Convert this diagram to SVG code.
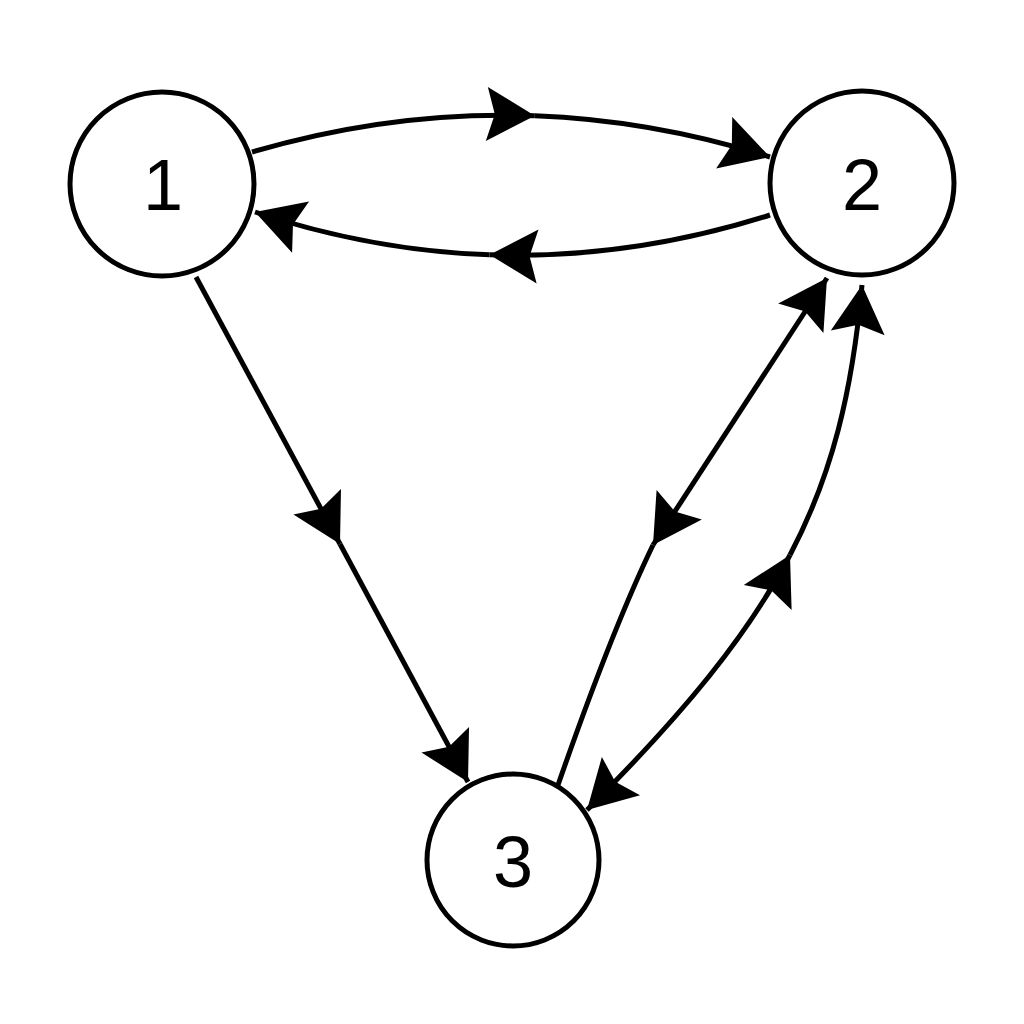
<svg xmlns="http://www.w3.org/2000/svg" width="1024" height="1024" viewBox="0 0 1024 1024">
  <style>
    .node circle { fill: #ffffff; stroke: #000000; stroke-width: 5; }
    .node text { font-family: "Liberation Sans", Arial, sans-serif; font-size: 72px; fill: #000000; text-anchor: middle; }
    .edge { fill: none; stroke: #000000; stroke-width: 5; }
  </style>
  <defs>
    <marker id="arrow" markerUnits="userSpaceOnUse" markerWidth="60" markerHeight="60" refX="0" refY="0" orient="auto-start-reverse" overflow="visible">
      <path d="M0,0 L-48,-27 L-40,0 L-48,27 Z" fill="#000000"/>
    </marker>
  </defs>
  <rect x="0" y="0" width="1024" height="1024" fill="#ffffff"/>
  <g id="connectors">
    <!-- 1 -> 2 (top) -->
    <path class="edge" d="M252,152 Q393.4,110.5 534.8,115.8" marker-end="url(#arrow)"/>
    <path class="edge" d="M534.8,115.8 Q652.4,120.2 770,157" marker-end="url(#arrow)"/>
    <!-- 2 -> 1 (bottom) -->
    <path class="edge" d="M770,215 Q629.6,259.6 489.6,254.8" marker-end="url(#arrow)"/>
    <path class="edge" d="M489.6,254.8 Q372.2,250.8 255,212" marker-end="url(#arrow)"/>
    <!-- 1 -> 3 -->
    <path class="edge" d="M196,277 L340,544" marker-end="url(#arrow)"/>
    <path class="edge" d="M340,544 L468,782" marker-end="url(#arrow)"/>
    <!-- 3 - 2 (left) -->
    <path class="edge" d="M653,545 Q612,630 558,785"/>
    <path class="edge" d="M653,545 L827,278" marker-start="url(#arrow)" marker-end="url(#arrow)"/>
    <!-- 3 - 2 (right) -->
    <path class="edge" d="M587,810 C684,713 747.9,635.25 790,555" marker-start="url(#arrow)" marker-end="url(#arrow)"/>
    <path class="edge" d="M790,555 C832.1,474.75 852.35,392 862,285" marker-end="url(#arrow)"/>
  </g>
  <g id="node1" class="node">
    <circle cx="162" cy="184" r="92"/>
    <text x="163" y="210">1</text>
  </g>
  <g id="node2" class="node">
    <circle cx="862" cy="183" r="92"/>
    <text x="862" y="210">2</text>
  </g>
  <g id="node3" class="node">
    <circle cx="513" cy="860" r="86"/>
    <text x="513" y="887">3</text>
  </g>
</svg>
